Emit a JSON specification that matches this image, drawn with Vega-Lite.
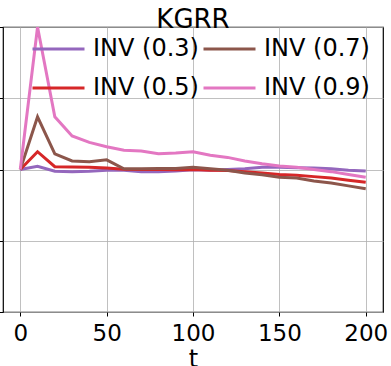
{
  "$schema": "https://vega.github.io/schema/vega-lite/v6.json",
  "autosize": "none",
  "width": 380,
  "height": 285,
  "padding": {"left": 3, "top": 27, "right": 8, "bottom": 54},
  "title": {"text": "KGRR", "fontSize": 26, "font": "DejaVu Sans", "fontWeight": "normal", "color": "black", "offset": -6},
  "config": {
    "font": "DejaVu Sans",
    "view": {"stroke": "black", "strokeWidth": 1.2},
    "axis": {"gridColor": "#b0b0b0", "gridWidth": 0.8, "gridOpacity": 1, "domain": false, "tickColor": "black", "tickSize": 4, "labelColor": "black", "titleColor": "black"}
  },
  "data": {"values": [
    {"t": 0, "s": "INV (0.3)", "v": 0}, {"t": 10, "s": "INV (0.3)", "v": 0.045}, {"t": 20, "s": "INV (0.3)", "v": -0.025}, {"t": 30, "s": "INV (0.3)", "v": -0.03}, {"t": 40, "s": "INV (0.3)", "v": -0.025}, {"t": 50, "s": "INV (0.3)", "v": -0.01}, {"t": 60, "s": "INV (0.3)", "v": -0.01}, {"t": 70, "s": "INV (0.3)", "v": -0.03}, {"t": 80, "s": "INV (0.3)", "v": -0.03}, {"t": 90, "s": "INV (0.3)", "v": -0.02}, {"t": 100, "s": "INV (0.3)", "v": -0.005}, {"t": 110, "s": "INV (0.3)", "v": -0.01}, {"t": 120, "s": "INV (0.3)", "v": 0}, {"t": 130, "s": "INV (0.3)", "v": 0.01}, {"t": 140, "s": "INV (0.3)", "v": 0.03}, {"t": 150, "s": "INV (0.3)", "v": 0.03}, {"t": 160, "s": "INV (0.3)", "v": 0.025}, {"t": 170, "s": "INV (0.3)", "v": 0.02}, {"t": 180, "s": "INV (0.3)", "v": 0.01}, {"t": 190, "s": "INV (0.3)", "v": -0.01}, {"t": 200, "s": "INV (0.3)", "v": -0.02},
    {"t": 0, "s": "INV (0.5)", "v": 0}, {"t": 10, "s": "INV (0.5)", "v": 0.25}, {"t": 20, "s": "INV (0.5)", "v": 0.04}, {"t": 30, "s": "INV (0.5)", "v": 0.035}, {"t": 40, "s": "INV (0.5)", "v": 0.03}, {"t": 50, "s": "INV (0.5)", "v": 0.02}, {"t": 60, "s": "INV (0.5)", "v": 0.005}, {"t": 70, "s": "INV (0.5)", "v": 0.0}, {"t": 80, "s": "INV (0.5)", "v": 0.0}, {"t": 90, "s": "INV (0.5)", "v": -0.005}, {"t": 100, "s": "INV (0.5)", "v": 0.0}, {"t": 110, "s": "INV (0.5)", "v": -0.01}, {"t": 120, "s": "INV (0.5)", "v": -0.015}, {"t": 130, "s": "INV (0.5)", "v": -0.03}, {"t": 140, "s": "INV (0.5)", "v": -0.05}, {"t": 150, "s": "INV (0.5)", "v": -0.07}, {"t": 160, "s": "INV (0.5)", "v": -0.08}, {"t": 170, "s": "INV (0.5)", "v": -0.1}, {"t": 180, "s": "INV (0.5)", "v": -0.12}, {"t": 190, "s": "INV (0.5)", "v": -0.15}, {"t": 200, "s": "INV (0.5)", "v": -0.18},
    {"t": 0, "s": "INV (0.7)", "v": 0}, {"t": 10, "s": "INV (0.7)", "v": 0.74}, {"t": 20, "s": "INV (0.7)", "v": 0.22}, {"t": 30, "s": "INV (0.7)", "v": 0.12}, {"t": 40, "s": "INV (0.7)", "v": 0.11}, {"t": 50, "s": "INV (0.7)", "v": 0.135}, {"t": 60, "s": "INV (0.7)", "v": 0.01}, {"t": 70, "s": "INV (0.7)", "v": 0.01}, {"t": 80, "s": "INV (0.7)", "v": 0.015}, {"t": 90, "s": "INV (0.7)", "v": 0.015}, {"t": 100, "s": "INV (0.7)", "v": 0.03}, {"t": 110, "s": "INV (0.7)", "v": 0.01}, {"t": 120, "s": "INV (0.7)", "v": -0.01}, {"t": 130, "s": "INV (0.7)", "v": -0.05}, {"t": 140, "s": "INV (0.7)", "v": -0.075}, {"t": 150, "s": "INV (0.7)", "v": -0.11}, {"t": 160, "s": "INV (0.7)", "v": -0.12}, {"t": 170, "s": "INV (0.7)", "v": -0.16}, {"t": 180, "s": "INV (0.7)", "v": -0.19}, {"t": 190, "s": "INV (0.7)", "v": -0.23}, {"t": 200, "s": "INV (0.7)", "v": -0.27},
    {"t": 0, "s": "INV (0.9)", "v": 0}, {"t": 10, "s": "INV (0.9)", "v": 2.0}, {"t": 20, "s": "INV (0.9)", "v": 0.74}, {"t": 30, "s": "INV (0.9)", "v": 0.47}, {"t": 40, "s": "INV (0.9)", "v": 0.38}, {"t": 50, "s": "INV (0.9)", "v": 0.32}, {"t": 60, "s": "INV (0.9)", "v": 0.27}, {"t": 70, "s": "INV (0.9)", "v": 0.26}, {"t": 80, "s": "INV (0.9)", "v": 0.22}, {"t": 90, "s": "INV (0.9)", "v": 0.23}, {"t": 100, "s": "INV (0.9)", "v": 0.25}, {"t": 110, "s": "INV (0.9)", "v": 0.2}, {"t": 120, "s": "INV (0.9)", "v": 0.17}, {"t": 130, "s": "INV (0.9)", "v": 0.12}, {"t": 140, "s": "INV (0.9)", "v": 0.08}, {"t": 150, "s": "INV (0.9)", "v": 0.05}, {"t": 160, "s": "INV (0.9)", "v": 0.03}, {"t": 170, "s": "INV (0.9)", "v": 0.0}, {"t": 180, "s": "INV (0.9)", "v": -0.03}, {"t": 190, "s": "INV (0.9)", "v": -0.07}, {"t": 200, "s": "INV (0.9)", "v": -0.11}
  ]},
  "mark": {"type": "line", "strokeWidth": 3, "clip": true},
  "encoding": {
    "x": {"field": "t", "type": "quantitative", "scale": {"domain": [-10, 210], "nice": false, "zero": false},
          "axis": {"values": [0, 50, 100, 150, 200], "labelFontSize": 23, "labelPadding": 6, "title": "t", "titleFontSize": 24, "titleFontWeight": "normal", "titlePadding": 2}},
    "y": {"field": "v", "type": "quantitative", "scale": {"domain": [-2, 2], "nice": false},
          "axis": {"values": [-2, -1, 0, 1, 2], "labels": false, "title": null}},
    "color": {"field": "s", "type": "nominal",
      "scale": {"domain": ["INV (0.3)", "INV (0.5)", "INV (0.7)", "INV (0.9)"], "range": ["#9467bd", "#d62728", "#8c564b", "#e377c2"]},
      "legend": {"title": null, "orient": "none", "legendX": 28, "legendY": 7, "columns": 2, "symbolType": "stroke", "symbolSize": 2704, "symbolStrokeWidth": 3, "clipHeight": 30, "labelFontSize": 24, "labelOffset": 7, "columnPadding": 3, "rowPadding": 9, "padding": 0, "labelColor": "black"}}
  }
}
